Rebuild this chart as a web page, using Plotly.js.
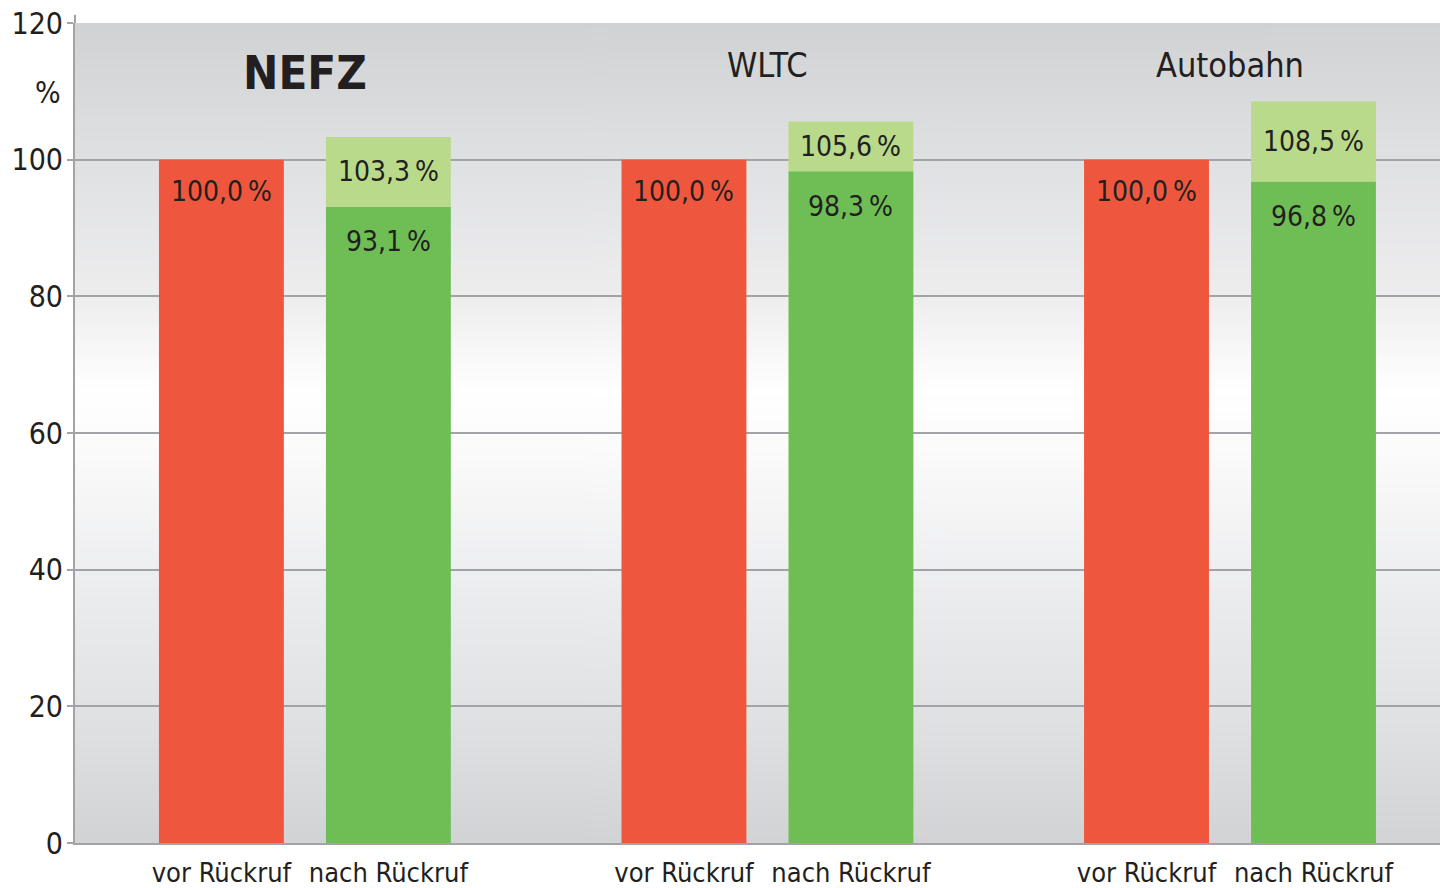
<!DOCTYPE html>
<html>
<head>
<meta charset="utf-8">
<script src="https://cdn.plot.ly/plotly-3.0.1.min.js"></script>
<style>
  html, body { margin: 0; padding: 0; background: #ffffff; }
  #chart { width: 1440px; height: 888px; }
</style>
</head>
<body>
<div id="chart"></div>
<script>
// ---- data ----
const groups = ["NEFZ", "WLTC", "Autobahn"];
const barLabels = ["vor Rückruf", "nach Rückruf"];
const vorRueckruf = [100.0, 100.0, 100.0];
const nachRueckrufBasis = [93.1, 98.3, 96.8];
const nachRueckrufGesamt = [103.3, 105.6, 108.5];
const yTicks = [0, 20, 40, 60, 80, 100, 120];

// ---- styling ----
const FONT = '"Liberation Sans Narrow", "DejaVu Sans Condensed", "Arial Narrow", sans-serif';
const TXT = '#231f20';
const RED = '#ee573d';
const GREEN = '#6fbe55';
const LIGHT = '#b8da8a';
const GRID = '#a2a3a6';
const OFF = 0.1805, W = 0.27;

const fmt = v => v.toFixed(1).replace('.', ',') + '\u2009%';

const gi = groups.map((g, i) => i);
const xVor = gi.map(i => i - OFF);
const xNach = gi.map(i => i + OFF);
const extra = nachRueckrufGesamt.map((v, i) => +(v - nachRueckrufBasis[i]).toFixed(2));

const traces = [
  { type: 'bar', x: xVor, y: vorRueckruf, width: W, marker: { color: RED, line: { width: 0 } }, hoverinfo: 'skip' },
  { type: 'bar', x: xNach, y: nachRueckrufBasis, width: W, marker: { color: GREEN, line: { width: 0 } }, hoverinfo: 'skip' },
  { type: 'bar', x: xNach, y: extra, base: nachRueckrufBasis, width: W, marker: { color: LIGHT, line: { width: 0 } }, hoverinfo: 'skip' }
];

const ann = [];
groups.forEach((g, i) => {
  ann.push({ x: i, y: i === 0 ? 112.8 : 113.8, xref: 'x', yref: 'y', text: g, showarrow: false, yanchor: 'middle',
    font: { family: FONT, size: i === 0 ? 47 : 34, color: TXT, weight: i === 0 ? 900 : 400 } });
  ann.push({ x: xVor[i], y: vorRueckruf[i], xref: 'x', yref: 'y', text: fmt(vorRueckruf[i]), showarrow: false,
    yanchor: 'middle', yshift: -32, font: { family: FONT, size: 28, color: TXT } });
  ann.push({ x: xNach[i], y: nachRueckrufBasis[i], xref: 'x', yref: 'y', text: fmt(nachRueckrufBasis[i]), showarrow: false,
    yanchor: 'middle', yshift: -35, font: { family: FONT, size: 28, color: TXT } });
  ann.push({ x: xNach[i], y: (nachRueckrufBasis[i] + nachRueckrufGesamt[i]) / 2, xref: 'x', yref: 'y', text: fmt(nachRueckrufGesamt[i]), showarrow: false,
    yanchor: 'middle', font: { family: FONT, size: 28, color: TXT } });
});
ann.push({ x: 0, y: 109.8, xref: 'paper', yref: 'y', text: '%', showarrow: false, xanchor: 'right', xshift: -12,
  yanchor: 'middle', font: { family: FONT, size: 30, color: TXT } });

// gradient background
const cv = document.createElement('canvas');
cv.width = 4; cv.height = 400;
const ctx = cv.getContext('2d');
const grd = ctx.createLinearGradient(0, 0, 0, 400);
grd.addColorStop(0, '#d1d2d4');
grd.addColorStop(0.17, '#e0e1e3');
grd.addColorStop(0.33, '#ededee');
grd.addColorStop(0.45, '#ffffff');
grd.addColorStop(0.52, '#fbfbfb');
grd.addColorStop(0.70, '#ebecee');
grd.addColorStop(0.85, '#e0e1e3');
grd.addColorStop(1, '#d2d3d5');
ctx.fillStyle = grd;
ctx.fillRect(0, 0, 4, 400);
const bg = cv.toDataURL('image/png');

const tickX = [], tickT = [];
gi.forEach(i => { tickX.push(xVor[i], xNach[i]); tickT.push(barLabels[0], barLabels[1]); });

const layout = {
  width: 1440, height: 888,
  margin: { l: 75, r: 0, t: 23, b: 45, pad: 0 },
  paper_bgcolor: '#ffffff',
  plot_bgcolor: 'rgba(0,0,0,0)',
  barmode: 'overlay',
  showlegend: false,
  font: { family: FONT, color: TXT },
  xaxis: {
    range: [-0.497, 2.454], tickvals: tickX, ticktext: tickT, ticks: '', showgrid: false, zeroline: false,
    showline: true, linecolor: GRID, linewidth: 2, tickfont: { family: FONT, size: 27, color: TXT },
    ticklabelstandoff: 5, fixedrange: true
  },
  yaxis: {
    range: [0, 120], tickvals: yTicks, ticktext: yTicks.map(String), ticks: 'outside', ticklen: 6, tickwidth: 2,
    tickcolor: GRID, showgrid: true, gridcolor: GRID, gridwidth: 2, zeroline: false,
    showline: true, linecolor: GRID, linewidth: 2, tickfont: { family: FONT, size: 30, color: TXT },
    ticklabelstandoff: -2, fixedrange: true
  },
  images: [{ source: bg, xref: 'paper', yref: 'paper', x: 0, y: 1, sizex: 1, sizey: 1, sizing: 'stretch', layer: 'below' }],
  shapes: [{ type: 'line', xref: 'paper', yref: 'paper', x0: 0, x1: 0, y0: 1, y1: 1.01, line: { color: GRID, width: 2 } }],
  annotations: ann
};

Plotly.newPlot('chart', traces, layout, { displayModeBar: false, staticPlot: true });
</script>
</body>
</html>
